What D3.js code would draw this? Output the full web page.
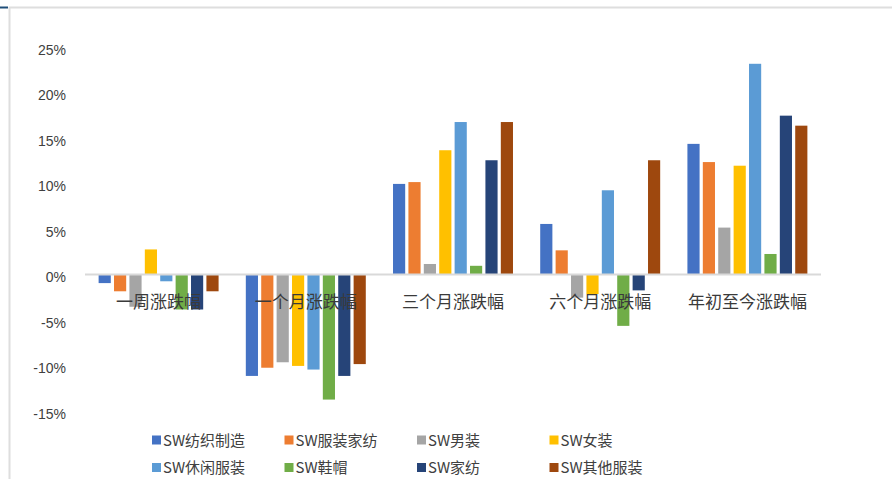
<!DOCTYPE html>
<html>
<head>
<meta charset="utf-8">
<script src="https://cdn.jsdelivr.net/npm/d3@7/dist/d3.min.js"></script>
<style>
  html, body { margin: 0; padding: 0; background: #fff; }
  svg { display: block; }
</style>
</head>
<body>
<svg id="chart" width="892" height="479"></svg>
<script>
// Periods on the x axis
const categories = ["一周涨跌幅", "一个月涨跌幅", "三个月涨跌幅", "六个月涨跌幅", "年初至今涨跌幅"];

// Series names (SW textile & apparel sub-indices)
const seriesNames = ["SW纺织制造", "SW服装家纺", "SW男装", "SW女装", "SW休闲服装", "SW鞋帽", "SW家纺", "SW其他服装"];

// Returns in percent, one array per series, ordered like categories
const sw纺织制造 = [-1.0, -11.2, 9.9, 5.5, 14.3];
const sw服装家纺 = [-1.9, -10.3, 10.1, 2.6, 12.3];
const sw男装 = [-3.6, -9.7, 1.1, -2.6, 5.1];
const sw女装 = [2.7, -10.1, 13.6, -2.2, 11.9];
const sw休闲服装 = [-0.8, -10.5, 16.7, 9.2, 23.1];
const sw鞋帽 = [-3.9, -13.8, 0.9, -5.7, 2.2];
const sw家纺 = [-3.9, -11.2, 12.5, -1.8, 17.4];
const sw其他服装 = [-1.9, -9.9, 16.7, 12.5, 16.3];

const seriesValues = [sw纺织制造, sw服装家纺, sw男装, sw女装, sw休闲服装, sw鞋帽, sw家纺, sw其他服装];

// Y axis ticks (percent)
const yTicks = [25, 20, 15, 10, 5, 0, -5, -10, -15];

const colors = ["#4472C4", "#ED7D31", "#A5A5A5", "#FFC000", "#5B9BD5", "#70AD47", "#264478", "#9E480E"];

const svg = d3.select("#chart");

// Outer frame: top and left rules with a small accent
svg.append("line").attr("x1", 9).attr("x2", 892).attr("y1", 7.5).attr("y2", 7.5)
  .attr("stroke", "#dedede").attr("stroke-width", 2);
svg.append("line").attr("x1", 9.5).attr("x2", 9.5).attr("y1", 7).attr("y2", 479)
  .attr("stroke", "#dedede").attr("stroke-width", 2);
svg.append("line").attr("x1", 0).attr("x2", 8).attr("y1", 7.5).attr("y2", 7.5)
  .attr("stroke", "#1f4e79").attr("stroke-width", 2);

const plotLeft = 85, plotRight = 821;
const y = d3.scaleLinear().domain([-15, 25]).range([410.5, 46.5]);

const x0 = d3.scaleBand().domain(categories).range([plotLeft, plotRight])
  .paddingInner(0.185).paddingOuter(0.0925);
const x1 = d3.scaleBand().domain(d3.range(seriesNames.length)).range([0, x0.bandwidth()])
  .paddingInner(0.21).paddingOuter(0);

// Y axis labels
const yAxis = d3.axisLeft(y).tickValues(yTicks).tickSize(0).tickPadding(0)
  .tickFormat(d => d + "%");
const yG = svg.append("g").attr("transform", "translate(66,3.5)").call(yAxis);
yG.select(".domain").remove();
yG.selectAll("text")
  .attr("font-family", "'Liberation Sans', 'DejaVu Sans', sans-serif")
  .attr("font-size", 14).attr("fill", "#404040");

// Bars
const groups = svg.append("g").selectAll("g").data(categories).join("g")
  .attr("transform", d => `translate(${x0(d)},0)`);

groups.selectAll("rect")
  .data((c, ci) => seriesValues.map((vals, si) => ({ si, v: vals[ci] })))
  .join("rect")
  .attr("x", d => x1(d.si))
  .attr("width", x1.bandwidth())
  .attr("y", d => y(Math.max(0, d.v)))
  .attr("height", d => Math.abs(y(d.v) - y(0)))
  .attr("fill", d => colors[d.si]);

// Zero baseline
svg.append("line").attr("x1", plotLeft).attr("x2", plotRight)
  .attr("y1", y(0) + 0.5).attr("y2", y(0) + 0.5)
  .attr("stroke", "#d9d9d9").attr("stroke-width", 2);

// Category labels sit just below the baseline, over the bars
svg.append("g").selectAll("text").data(categories).join("text")
  .attr("x", d => x0(d) + x0.bandwidth() / 2)
  .attr("y", 302)
  .attr("dy", "0.35em")
  .attr("text-anchor", "middle")
  .attr("font-family", "'Noto Sans CJK SC', sans-serif")
  .attr("font-size", 17)
  .attr("fill", "#3a3a3a")
  .text(d => d);

// Legend: two rows of four
const legend = svg.append("g").selectAll("g").data(seriesNames).join("g")
  .attr("transform", (d, i) => `translate(${152 + (i % 4) * 132.5},${i < 4 ? 440.5 : 468})`);
legend.append("rect").attr("x", 0).attr("y", -5).attr("width", 9).attr("height", 9)
  .attr("fill", (d, i) => colors[i]);
legend.append("text").attr("x", 11).attr("y", 0).attr("dy", "0.35em")
  .attr("font-family", "'Noto Sans CJK SC', sans-serif")
  .attr("font-size", 15).attr("fill", "#404040")
  .text(d => d);
</script>
</body>
</html>
